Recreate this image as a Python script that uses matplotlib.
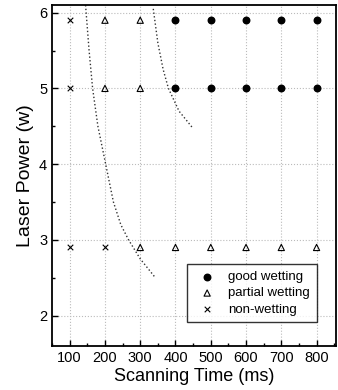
import numpy as np
import matplotlib
matplotlib.use("Agg")
import matplotlib.pyplot as plt
from matplotlib.ticker import MultipleLocator

plt.rcParams['font.family'] = ['Liberation Sans', 'DejaVu Sans']

# data
good_t = [400, 500, 600, 700, 800, 400, 500, 600, 700, 800]
good_p = [5.9, 5.9, 5.9, 5.9, 5.9, 5.0, 5.0, 5.0, 5.0, 5.0]
part_t = [200, 300, 200, 300, 300, 400, 500, 600, 700, 800]
part_p = [5.9, 5.9, 5.0, 5.0, 2.9, 2.9, 2.9, 2.9, 2.9, 2.9]
non_t = [100, 100, 100, 200]
non_p = [5.9, 5.0, 2.9, 2.9]

# boundary curves
b1_t = [145, 155, 165, 180, 202, 224, 245, 267, 300, 343]
b1_p = [6.1, 5.5, 5.0, 4.5, 4.0, 3.5, 3.2, 3.0, 2.75, 2.5]
b2_t = [337, 350, 365, 380, 410, 450]
b2_p = [6.05, 5.6, 5.25, 5.0, 4.7, 4.47]

fig = plt.figure(figsize=(3.38, 3.9), dpi=100)
ax = fig.add_axes([0.154, 0.113, 0.84, 0.874])

ax.grid(True, which="major", color="#bbbbbb", ls=":", lw=0.8)
ax.plot(b1_t, b1_p, color="#333333", ls=":", lw=1.0)
ax.plot(b2_t, b2_p, color="#333333", ls=":", lw=1.0)

ax.scatter(good_t, good_p, marker="o", s=22, color="black", label="good wetting", zorder=3)
ax.scatter(part_t, part_p, marker="^", s=20, facecolors="none", edgecolors="black",
           linewidths=0.8, label="partial wetting", zorder=3)
ax.scatter(non_t, non_p, marker="x", s=16, color="black", linewidths=0.8,
           label="non-wetting", zorder=3)

ax.set_xlim(50, 855)
ax.set_ylim(1.6, 6.1)
ax.set_xticks([100, 200, 300, 400, 500, 600, 700, 800])
ax.set_yticks([2, 3, 4, 5, 6])
ax.xaxis.set_minor_locator(MultipleLocator(50))
ax.yaxis.set_minor_locator(MultipleLocator(0.5))
ax.tick_params(which="both", direction="in", top=False, right=False, labelsize=10.5)
ax.tick_params(which="major", length=4, width=1)
ax.tick_params(which="minor", length=2.5, width=1)
for s in ax.spines.values():
    s.set_linewidth(1.3)

ax.set_xlabel("Scanning Time (ms)", fontsize=13, labelpad=2)
ax.set_ylabel("Laser Power (w)", fontsize=14, labelpad=4)

leg = ax.legend(loc="lower right", bbox_to_anchor=(0.955, 0.05), fontsize=9.5,
                frameon=True, fancybox=False, edgecolor="black",
                handletextpad=0.6, borderpad=0.5, labelspacing=0.3)
leg.get_frame().set_linewidth(1.0)

fig.savefig("out.png", dpi=100)
